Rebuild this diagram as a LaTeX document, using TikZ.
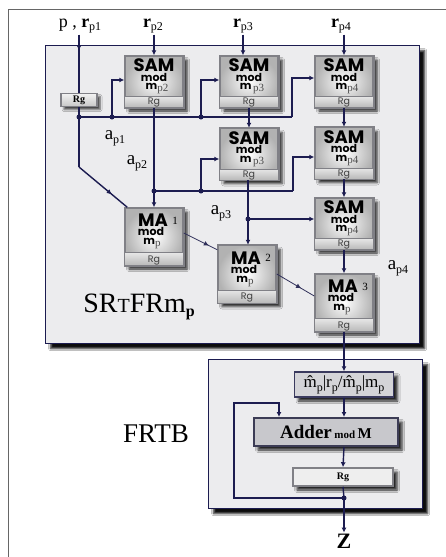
\documentclass[tikz,border=0pt]{standalone}
\usepackage{fontspec}
\setmainfont{Liberation Serif}
\newfontfamily\gfont{Poppins}
\usetikzlibrary{arrows.meta,shadows.blur,decorations.markings,calc}
\definecolor{navy}{RGB}{28,28,80}
\definecolor{panelfill}{RGB}{236,236,238}
\definecolor{boxedge}{RGB}{128,128,134}
\newcommand\fs[1]{\fontsize{#1}{#1}\selectfont}
\newcommand\psub[1]{\raisebox{-0.22em}{\fs{12}#1}}
\newcommand\psubb[1]{{\rmfamily\mdseries\fs{11}\color{black!70}\raisebox{-2pt}{#1}}}
\tikzset{
  line/.style={navy, line width=1.4pt},
  arr/.style={line, -{Latex[length=5pt,width=5pt]}},
  midarr/.style={line, postaction=decorate, decoration={markings, mark=at position #1 with {\arrow{Latex[length=5pt,width=5pt]}}}},
  thinmid/.style={navy!80!gray, line width=0.8pt, postaction=decorate, decoration={markings, mark=at position #1 with {\arrow{Latex[length=5pt,width=5pt]}}}},
  dot/.style={circle, fill=navy, inner sep=0pt, minimum size=5pt},
  panel/.style={draw=navy, line width=1.3pt, fill=panelfill, inner sep=0pt, anchor=north west,
    blur shadow={shadow xshift=5pt, shadow yshift=-5pt, shadow blur radius=2pt, shadow opacity=95}},
  modbox/.style={draw=boxedge, line width=1.5pt, inner sep=0pt, minimum width=58pt, minimum height=#1,
    inner color=white, outer color=black!30,
    blur shadow={shadow xshift=4pt, shadow yshift=-4pt, shadow blur radius=2.5pt, shadow opacity=85}},
  ttl/.style={font=\gfont\bfseries\fs{18}, inner sep=0pt, anchor=base, text height=12pt, text depth=0pt},
  modt/.style={font=\gfont\bfseries\fs{11}, inner sep=0pt, anchor=base, text height=7.5pt, text depth=0pt},
  mpt/.style={font=\gfont\bfseries\fs{11}, inner sep=0pt, anchor=base, text height=5.5pt, text depth=2pt},
  rgt/.style={font=\gfont\fs{9.5}, text=black!75, inner sep=0pt, anchor=base, text height=7pt, text depth=0pt},
  supn/.style={font=\fs{11}, inner sep=0pt, anchor=base},
  lbl/.style={font=\fs{19}, inner sep=0pt},
  inl/.style={font=\fs{18}, inner sep=1pt},
}
\newcommand\SamBox[4]{%
  \node[modbox=51pt] (#1) at (#2,#3) {};
  \shade[top color=black!10, bottom color=black!28] ([yshift=11pt]#1.south west) rectangle (#1.south east);
  \draw[boxedge, line width=1.5pt] (#1.south west) rectangle (#1.north east);
  \draw[boxedge, line width=1pt] ([yshift=11pt]#1.south west) -- ([yshift=11pt]#1.south east);
  \node[ttl] (#1-t) at ([yshift=-16.5pt]#1.north) {SAM};
  \node[modt] (#1-m) at ([yshift=-26pt]#1.north) {mod};
  \node[mpt] (#1-s) at ([xshift=3pt,yshift=-34.5pt]#1.north) {m\psubb{#4}};
  \node[rgt] (#1-r) at ([yshift=3pt]#1.south) {Rg};
}
\newcommand\MaBox[4]{%
  \node[modbox=57pt] (#1) at (#2,#3) {};
  \shade[top color=black!10, bottom color=black!28] ([yshift=13pt]#1.south west) rectangle (#1.south east);
  \draw[boxedge, line width=1.5pt] (#1.south west) rectangle (#1.north east);
  \draw[boxedge, line width=1pt] ([yshift=13pt]#1.south west) -- ([yshift=13pt]#1.south east);
  \node[ttl] (#1-t) at ([xshift=-1pt,yshift=-19.5pt]#1.north) {MA};
  \node[supn] (#1-n) at ([xshift=21pt,yshift=-17pt]#1.north) {#4};
  \node[modt] (#1-m) at ([xshift=-3pt,yshift=-28.5pt]#1.north) {mod};
  \node[mpt] (#1-s) at ([xshift=-2pt,yshift=-37.5pt]#1.north) {m\psubb{p}};
  \node[rgt] (#1-r) at ([yshift=3.5pt]#1.south) {Rg};
}
\begin{document}
\begin{tikzpicture}[x=1pt,y=-1pt]
\useasboundingbox (0,0) rectangle (446,557);
\fill[white] (0,0) rectangle (446,557);
\draw[black!60, line width=0.9pt] (446,9) -- (8,9) -- (8,557);
% panels
\node[panel, minimum width=374pt, minimum height=298pt] (pan1) at (45,45) {};
\node[panel, minimum width=214pt, minimum height=149pt] (pan2) at (208,359) {};
% input labels
\node[inl] (in1) at (80,26) {p , \textbf{r}\psub{p1}};
\node[inl] (in2) at (153,26) {\textbf{r}\psub{p2}};
\node[inl] (in3) at (243,26) {\textbf{r}\psub{p3}};
\node[inl] (in4) at (341,26) {\textbf{r}\psub{p4}};
% Rg small
\node[draw=boxedge, line width=1.5pt, top color=black!5, bottom color=black!22, minimum width=36pt, minimum height=13pt, inner sep=0pt,
  blur shadow={shadow xshift=3pt, shadow yshift=-3pt, shadow blur radius=2pt, shadow opacity=70},
  font=\fs{10}\bfseries] (rg1) at (79,100) {Rg};
% SAM boxes
\SamBox{sam2}{154}{81.5}{p2}
\SamBox{sam3a}{249}{81.5}{\,p3}
\SamBox{sam4a}{344}{81.5}{p4}
\SamBox{sam3b}{249}{154}{\,p3}
\SamBox{sam4b}{344}{153}{p4}
\SamBox{sam4c}{344}{223.5}{p4}
% MA boxes
\MaBox{ma1}{154}{236.5}{1}
\MaBox{ma2}{247}{274}{2}
\MaBox{ma3}{344}{302.5}{3}
% FRTB boxes
\node[draw=navy!70!gray, line width=1.5pt, fill={rgb,255:red,212;green,212;blue,216}, minimum width=99pt, minimum height=25pt, inner sep=0pt,
  blur shadow={shadow xshift=4pt, shadow yshift=-4pt, shadow blur radius=2.5pt, shadow opacity=85},
  font=\fs{17}] (mhat) at (344,384.5) {\^{m}\psub{p}|r\psub{p}/\^{m}\psub{p}|m\psub{p}};
\node[draw={rgb,255:red,60;green,60;blue,85}, line width=2pt, fill={rgb,255:red,200;green,200;blue,204}, minimum width=144pt, minimum height=28pt, inner sep=0pt,
  blur shadow={shadow xshift=4pt, shadow yshift=-4pt, shadow blur radius=2.5pt, shadow opacity=85},
  font=\bfseries] (adder) at (326,432) {{\fs{19}Adder} {\fs{11}mod} {\fs{15}M}};
\node[draw=boxedge, line width=1.5pt, fill={rgb,255:red,238;green,238;blue,238}, minimum width=100pt, minimum height=18pt, inner sep=0pt,
  blur shadow={shadow xshift=4pt, shadow yshift=-4pt, shadow blur radius=2.5pt, shadow opacity=85},
  font=\fs{10}\bfseries] (rgf) at (343,477) {Rg};
% labels
\node[lbl] (ap1) at (115,138) {a\psub{p1}};
\node[lbl] (ap2) at (137,163) {a\psub{p2}};
\node[lbl] (ap3) at (221,213) {a\psub{p3}};
\node[lbl] (ap4) at (398,268) {a\psub{p4}};
\node[inner sep=0pt] (srt) at (139,307) {\fs{28}SR{\fs{20}T}FRm\raisebox{-4pt}{\fs{16}\bfseries p}};
\node[inner sep=0pt, font=\fs{27}] (frtb) at (156,434) {FRTB};
\node[inner sep=1pt, font=\fs{22}\bfseries] (zl) at (344,541) {Z};
% coordinates
\coordinate (j1) at (79,117);
\coordinate (b1) at (112,117);
\coordinate (b2) at (201,117);
\coordinate (b3) at (292,117);
\coordinate (k1) at (79,167);
\coordinate (j2) at (154,191);
\coordinate (d2) at (201,191);
\coordinate (c3) at (293,191);
\coordinate (j3) at (248,219);
\coordinate (j4) at (344,498);
\coordinate (fb) at (234,498);
\coordinate (fbt) at (234,403);
\coordinate (fbr) at (279,403);
% connectors
\draw[midarr=0.27] (rg1.north |- in1.south) -- (rg1.north);
\draw[arr] (in2.south -| sam2.north) -- (sam2.north);
\draw[arr] (in3.south) -- (in3.south |- sam3a.north);
\draw[arr] (in4.south -| sam4a.north) -- (sam4a.north);
\draw[line] (rg1.south) -- (j1) -- (k1);
\draw[midarr=0.68] (k1) -- ([xshift=3pt]ma1.north west);
\draw[line] (j1) -- (b3);
\draw[arr] (b3) |- ([yshift=3.5pt]sam4a.west);
\draw[arr] (b1) |- ([yshift=1.5pt]sam2.west);
\draw[arr] (b2) |- ([yshift=1.5pt]sam3a.west);
\draw[line] (sam2.south) -- (j2);
\draw[arr] (j2) -- (ma1.north);
\draw[line] (j2) -- (c3);
\draw[arr] (c3) |- ([yshift=-4pt]sam4b.west);
\draw[arr] (d2) |- ([yshift=-5pt]sam3b.west);
\draw[arr] (sam3a.south) -- (sam3b.north);
\draw[arr] (sam4a.south) -- (sam4b.north);
\draw[arr] (sam4b.south) -- (sam4c.north);
\draw[line] (sam3b.south -| j3) -- (j3);
\draw[arr] (j3) -- (j3 |- ma2.north);
\draw[arr] (j3) -- (j3 -| sam4c.west);
\draw[arr] (sam4c.south) -- (ma3.north);
\draw[thinmid=0.75] ([yshift=3.5pt]ma1.east) -- ([yshift=-5pt]ma2.north west);
\draw[thinmid=0.65] (ma2.east) -- ([yshift=6.5pt]ma3.west);
\draw[arr] (ma3.south) -- (mhat.north);
\draw[arr] (mhat.south) -- (mhat.south |- adder.north);
\draw[arr] (mhat.south |- adder.south) -- (rgf.north);
\draw[line] (rgf.south) -- (j4);
\draw[arr] (j4) -- (zl.north);
\draw[arr] (j4) -- (fb) -- (fbt) -- (fbr) -- (fbr |- adder.north);
% dots
\foreach \d in {j1,b1,b2,j2,d2,j3,j4} \node[dot] (dot-\d) at (\d) {};
\end{tikzpicture}
\end{document}
